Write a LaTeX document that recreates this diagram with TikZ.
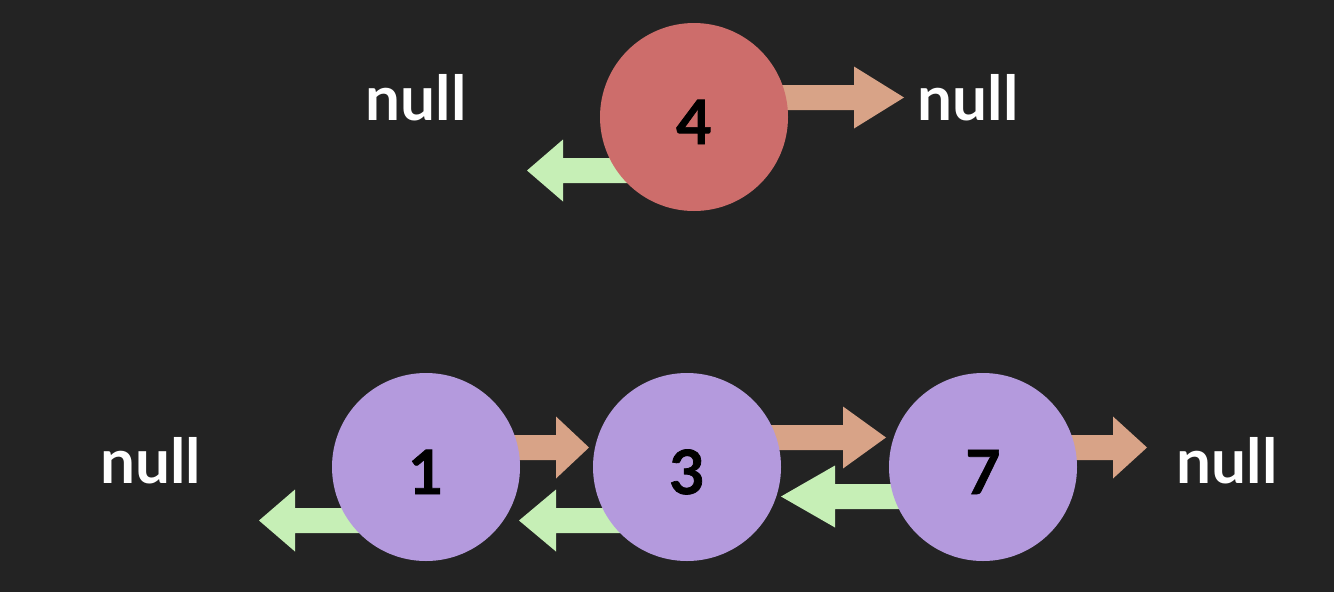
\documentclass[tikz,border=0pt]{standalone}
\usepackage{fontspec}
\setmainfont{Lato}
\newfontfamily\digitfont[BoldFeatures={FakeBold=1.2}]{Lato}
\definecolor{bg}{HTML}{232323}
\definecolor{redc}{HTML}{CD6D6B}
\definecolor{purc}{HTML}{B49ADD}
\definecolor{orc}{HTML}{D8A387}
\definecolor{grc}{HTML}{C6EFB6}
\newcommand\blockarrow[5]{%
  \fill[#5] (#1,{#2-12.5}) -- (#3,{#2-12.5}) -- (#3,{#2-31}) -- (#4,#2) -- (#3,{#2+31}) -- (#3,{#2+12.5}) -- (#1,{#2+12.5}) -- cycle;}
\tikzset{
  listnode/.style={circle, minimum size=188pt, inner sep=0pt},
  digit/.style={font=\digitfont\fontsize{61}{61}\selectfont\bfseries, text=black, anchor=base, inner sep=0pt},
  nulltxt/.style={font=\fontsize{62}{62}\selectfont\bfseries, text=white, anchor=base, inner sep=0pt},
}
\begin{document}
\begin{tikzpicture}[x=1pt,y=-1pt]
\fill[bg] (0,0) rectangle (1334,592);
\useasboundingbox (0,0) rectangle (1334,592);
% arrows (behind circles)
\blockarrow{694}{97.5}{854}{904}{orc}
\blockarrow{694}{170.5}{563}{527}{grc}
\blockarrow{426}{447.5}{556}{589}{orc}
\blockarrow{687}{437.5}{843}{886}{orc}
\blockarrow{983}{447.5}{1113}{1147}{orc}
\blockarrow{426}{520.5}{295}{259}{grc}
\blockarrow{687}{520.5}{556}{519}{grc}
\blockarrow{983}{496.5}{835}{781}{grc}
% nodes
\node[listnode, fill=redc] (c4) at (694,117) {};
\node[listnode, fill=purc] (c1) at (426,467) {};
\node[listnode, fill=purc] (c3) at (687,467) {};
\node[listnode, fill=purc] (c7) at (983,467) {};
\node[digit] (t4) at (694,144) {4};
\node[digit] (t1) at (426,494) {1};
\node[digit] (t3) at (687,494) {3};
\node[digit] (t7) at (983,494) {7};
\node[nulltxt] (n1) at (416,120) {null};
\node[nulltxt] (n2) at (968,120) {null};
\node[nulltxt] (n3) at (151,483) {null};
\node[nulltxt] (n4) at (1227,483) {null};
\end{tikzpicture}
\end{document}
